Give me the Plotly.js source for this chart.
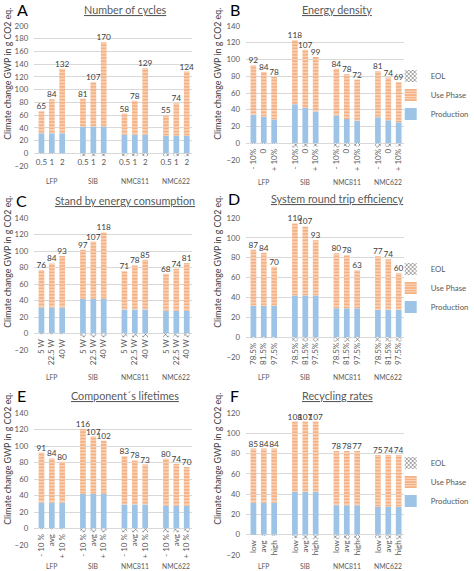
<!DOCTYPE html>
<html>
<head>
<meta charset="utf-8">
<script src="https://cdn.plot.ly/plotly-3.0.1.min.js"></script>
<style>
html,body{margin:0;padding:0;background:#fff;}
#chart{width:474px;height:571px;}
</style>
</head>
<body>
<div id="chart"></div>
<script>
// ---------- data ----------
const groups = ["LFP", "SIB", "NMC811", "NMC622"];

// A: Number of cycles
const subA  = ["0.5", "1", "2"];
const prodA = [31.5, 31.5, 31.5, 42, 42, 42, 29, 29, 29, 27.5, 27.5, 27.5];
const useA  = [34.5, 53.5, 101.5, 43.5, 69.5, 132.5, 33.5, 53.5, 104.5, 32, 51, 101];
const eolA  = [-1, -1, -1, -4.5, -4.5, -4.5, -4.5, -4.5, -4.5, -4.5, -4.5, -4.5];
const totA  = [65, 84, 132, 81, 107, 170, 58, 78, 129, 55, 74, 124];

// B: Energy density
const subB  = ["- 10%", "0", "+ 10%"];
const prodB = [34, 31.5, 28.5, 46.5, 42, 38, 33, 29, 27, 31, 27.5, 25];
const useB  = [59, 53.5, 50.5, 76.5, 69.5, 65, 56, 53.5, 49, 55, 51, 48];
const eolB  = [-1, -1, -1, -5, -4.5, -4, -5, -4.5, -4, -5, -4.5, -4];
const totB  = [92, 84, 78, 118, 107, 99, 84, 78, 72, 81, 74, 69];

// C: Stand by energy consumption
const subC  = ["5 W", "22.5 W", "40 W"];
const prodC = [31.5, 31.5, 31.5, 42, 42, 42, 29, 29, 29, 27.5, 27.5, 27.5];
const useC  = [45.5, 53.5, 62.5, 59.5, 69.5, 80.5, 46.5, 53.5, 60.5, 45, 51, 58];
const eolC  = [-1, -1, -1, -4.5, -4.5, -4.5, -4.5, -4.5, -4.5, -4.5, -4.5, -4.5];
const totC  = [76, 84, 93, 97, 107, 118, 71, 78, 85, 68, 74, 81];

// D: System round trip efficiency
const subD  = ["78.5%", "81.5%", "97.5%"];
const prodD = [31.5, 31.5, 31.5, 42, 42, 42, 29, 29, 29, 27.5, 27.5, 27.5];
const useD  = [56.5, 53.5, 39.5, 72.5, 69.5, 55.5, 55.5, 53.5, 38.5, 54, 51, 37];
const eolD  = [-1, -1, -1, -4.5, -4.5, -4.5, -4.5, -4.5, -4.5, -4.5, -4.5, -4.5];
const totD  = [87, 84, 70, 110, 107, 93, 80, 78, 63, 77, 74, 60];

// E: Component's lifetimes
const subE  = ["- 10 %", "avg", "+ 10 %"];
const prodE = [31.5, 31.5, 31.5, 42, 42, 42, 29, 29, 29, 27.5, 27.5, 27.5];
const useE  = [60.5, 53.5, 49.5, 78.5, 69.5, 64.5, 58.5, 53.5, 48.5, 57, 51, 47];
const eolE  = [-1, -1, -1, -4.5, -4.5, -4.5, -4.5, -4.5, -4.5, -4.5, -4.5, -4.5];
const totE  = [91, 84, 80, 116, 107, 102, 83, 78, 73, 80, 74, 70];

// F: Recycling rates
const subF  = ["low", "avg", "high"];
const prodF = [31.5, 31.5, 31.5, 42, 42, 42, 29, 29, 29, 27.5, 27.5, 27.5];
const useF  = [53.5, 53.5, 53.5, 69.5, 69.5, 69.5, 53.5, 53.5, 53.5, 51, 51, 51];
const eolF  = [0, -1, -1, -3.5, -4.5, -4.5, -4.5, -4.5, -5.5, -3.5, -4.5, -4.5];
const totF  = [85, 84, 84, 108, 107, 107, 78, 78, 77, 75, 74, 74];

const seriesNames = ["Production", "Use Phase", "EOL"];
const yTitle = "Climate change GWP in g CO2 eq.";

// ---------- layout helpers ----------
const W = 474, H = 571;
const FONT = "Lato, 'Liberation Sans', sans-serif";
const GRAY = "#595959", DARK = "#404040";
const BLUE = "#9DC3E6", ORANGE = "#F4B183";

const panels = [
  {letter:"A", title:"Number of cycles", sub:subA, prod:prodA, use:useA, eol:eolA, tot:totA, ymax:200,
   px:[35,197], py:[26,166], angle:0, letterPos:[23,9], titlePos:[128,9], yTitlePos:[7,74], groupY:181, legend:null},
  {letter:"B", title:"Energy density", sub:subB, prod:prodB, use:useB, eol:eolB, tot:totB, ymax:140,
   px:[252,414], py:[26,160], angle:-90, letterPos:[241,9], titlePos:[345,9], yTitlePos:[222,74], groupY:182, legend:"legend"},
  {letter:"C", title:"Stand by energy consumption", sub:subC, prod:prodC, use:useC, eol:eolC, tot:totC, ymax:140,
   px:[35,197], py:[218,350], angle:-90, letterPos:[22,200], titlePos:[128,200], yTitlePos:[7,262], groupY:377, legend:null},
  {letter:"D", title:"System round trip efficiency", sub:subD, prod:prodD, use:useD, eol:eolD, tot:totD, ymax:120,
   px:[252,414], py:[218,357], angle:-90, letterPos:[240,199], titlePos:[346,199], yTitlePos:[222,262], groupY:377, legend:"legend2"},
  {letter:"E", title:"Component\u00b4s lifetimes", sub:subE, prod:prodE, use:useE, eol:eolE, tot:totE, ymax:140,
   px:[35,197], py:[413,545], angle:-90, letterPos:[22,395], titlePos:[128,395], yTitlePos:[7,459], groupY:566, legend:null},
  {letter:"F", title:"Recycling rates", sub:subF, prod:prodF, use:useF, eol:eolF, tot:totF, ymax:120,
   px:[252,414], py:[413,555], angle:-90, letterPos:[240,395], titlePos:[346,395], yTitlePos:[222,459], groupY:566, legend:"legend3"}
];

const data = [];
const annotations = [];
const layout = {
  width: W, height: H,
  margin: {l:0, r:0, t:0, b:0},
  paper_bgcolor: "#fff", plot_bgcolor: "#fff",
  barmode: "relative",
  bargap: 0.45,
  font: {family: FONT, color: GRAY, size: 8},
  showlegend: true,
  annotations: annotations
};

const xr = [-0.7, 14.55];

panels.forEach((p, k) => {
  const n = k + 1;
  const xa = "x" + n, ya = "y" + n;
  const xs = p.prod.map((_, i) => Math.floor(i / 3) * 4 + (i % 3));
  const labels = p.prod.map((_, i) => p.sub[i % 3]);
  const yDom = [1 - p.py[1] / H, 1 - p.py[0] / H];
  const zeroFrac = yDom[0] + (0 - (-20)) / (p.ymax + 20) * (yDom[1] - yDom[0]);
  const show = p.legend !== null;
  const common = {type: "bar", xaxis: xa, yaxis: ya, x: xs, hoverinfo: "skip",
                  showlegend: show, legend: p.legend || "legend"};

  data.push(Object.assign({}, common, {
    name: seriesNames[0], y: p.prod,
    marker: {color: BLUE, line: {width: 0}}
  }));
  data.push(Object.assign({}, common, {
    name: seriesNames[1], y: p.use,
    marker: {color: ORANGE, line: {width: 0},
             pattern: {shape: "-", fgcolor: "#FDE9DB", bgcolor: ORANGE, size: 3.2, solidity: 0.28}},
    text: p.tot.map(String), textposition: "outside", constraintext: "none",
    cliponaxis: false, textfont: {size: 8.3, color: DARK, family: FONT}
  }));
  data.push(Object.assign({}, common, {
    name: seriesNames[2], y: p.eol,
    marker: {color: "#ffffff", line: {width: 0},
             pattern: {shape: "x", fgcolor: "#404040", bgcolor: "#ffffff", size: 3.5, solidity: 0.3}}
  }));

  layout["xaxis" + n] = {
    domain: [p.px[0] / W, p.px[1] / W],
    anchor: "free", position: zeroFrac,
    range: xr, type: "linear",
    tickmode: "array", tickvals: xs, ticktext: labels,
    tickangle: p.angle, ticks: "", ticklabelstandoff: 3,
    showgrid: false, zeroline: false, showline: false,
    tickfont: {size: 8, color: GRAY}, fixedrange: true
  };
  layout["yaxis" + n] = {
    domain: yDom, anchor: xa,
    range: [-20, p.ymax], dtick: 20, tick0: 0,
    showgrid: true, gridcolor: "#D9D9D9", gridwidth: 1,
    zeroline: true, zerolinecolor: "#D9D9D9", zerolinewidth: 1,
    showline: false, ticks: "", ticklabelstandoff: 5,
    tickfont: {size: 7.8, color: GRAY}, fixedrange: true
  };

  // group labels
  groups.forEach((g, gi) => {
    annotations.push({xref: xa, yref: "paper", x: gi * 4 + 1, y: 1 - p.groupY / H,
      text: g, showarrow: false, xanchor: "center", yanchor: "middle",
      font: {size: 6.8, color: GRAY, family: FONT}});
  });
  // panel letter
  annotations.push({xref: "paper", yref: "paper", x: p.letterPos[0] / W, y: 1 - p.letterPos[1] / H,
    text: p.letter, showarrow: false, xanchor: "center", yanchor: "middle",
    font: {size: 16, color: "#000", family: FONT}});
  // panel title
  annotations.push({xref: "paper", yref: "paper", x: p.titlePos[0] / W, y: 1 - p.titlePos[1] / H,
    text: "<u>" + p.title + "</u>", showarrow: false, xanchor: "center", yanchor: "middle",
    font: {size: 10.8, color: GRAY, family: FONT}});
  // y title
  annotations.push({xref: "paper", yref: "paper", x: p.yTitlePos[0] / W, y: 1 - p.yTitlePos[1] / H,
    text: yTitle, showarrow: false, textangle: -90, xanchor: "center", yanchor: "middle",
    font: {size: 8.8, color: DARK, family: FONT}});
});

const legendBase = {
  x: 400 / W, xanchor: "left", yanchor: "middle",
  traceorder: "reversed", bgcolor: "rgba(0,0,0,0)",
  font: {size: 7.8, color: GRAY, family: FONT},
  itemwidth: 30, tracegroupgap: 0
};
layout.legend  = Object.assign({}, legendBase, {y: 1 - 95 / H});
layout.legend2 = Object.assign({}, legendBase, {y: 1 - 288 / H});
layout.legend3 = Object.assign({}, legendBase, {y: 1 - 482 / H});

Plotly.newPlot("chart", data, layout, {staticPlot: true, displayModeBar: false});
</script>
</body>
</html>
